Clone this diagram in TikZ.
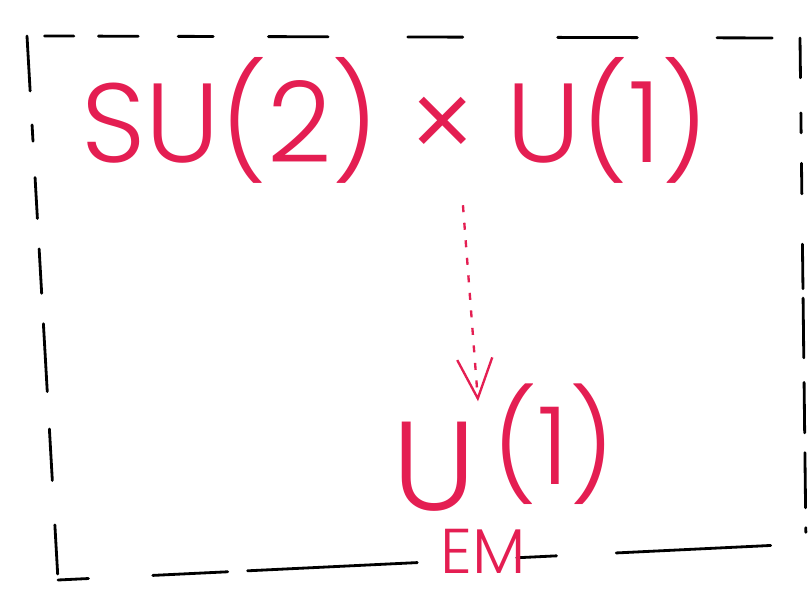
\documentclass[tikz,border=0pt]{standalone}
\usepackage{fontspec}
\newfontfamily\handfont{Poppins}[UprightFont=* Light]
\usetikzlibrary{arrows.meta}
\definecolor{inkred}{RGB}{228,30,82}
\tikzset{
  frame/.style={line width=2.4pt, line cap=round},
  group/.style={text=inkred, font=\handfont\fontsize{96}{104}\selectfont, inner sep=0pt},
  breaking/.style={draw=inkred, line width=2pt, dash pattern=on 6pt off 9pt,
    -{Straight Barb[length=34pt, width=30pt, line width=2pt]}}
}
\begin{document}
\begin{tikzpicture}[x=0.03cm, y=-0.03cm]
  % page box, pixel units of the sketch
  \useasboundingbox (0,0) rectangle (812,595);

  % hand-drawn dashed frame, one uneven dash pattern per side
  \coordinate (tl) at (27,36);
  \coordinate (tr) at (800,38);
  \coordinate (br) at (806,545);
  \coordinate (bl) at (58,580);
  \draw[frame, dash pattern=on 25pt off 21pt on 34pt off 34pt on 30pt off 47pt on 51pt off 68pt
    on 47pt off 81pt on 68pt off 68pt on 47pt off 40pt] ([xshift=15pt]tl) -- ([xshift=-18pt]tr);
  \draw[frame, dash pattern=on 47pt off 29pt on 14pt off 31pt on 35pt off 26pt on 38pt off 26pt
    on 58pt off 32pt on 44pt off 38pt on 42pt off 40pt] (tl) -- (bl);
  \draw[frame, dash pattern=on 34pt off 30pt on 17pt off 26pt on 26pt off 43pt on 38pt off 8pt
    on 51pt off 21pt on 43pt off 17pt on 47pt off 17pt on 4pt off 20pt] (tr) -- (br);
  \draw[frame, dash pattern=on 26pt off 55pt on 64pt off 17pt on 145pt off 85pt on 34pt off 51pt
    on 132pt off 40pt] (bl) -- ([xshift=-22pt]br);

  % gauge groups
  \node[group] (sym) at (395,120) {SU(2) × U(1)};
  \node[group, font=\handfont\fontsize{108}{116}\selectfont, anchor=base west] (em) at (392,510)
    {U\makebox[0pt][l]{\kern-30pt\raisebox{-54pt}{\fontsize{54}{58}\selectfont EM}}\kern14pt%
     \raisebox{22pt}{\fontsize{92}{100}\selectfont(1)}};

  % symmetry breaking
  \draw[breaking] ([xshift=58pt]sym.south) ++(0,22) -- ([shift={(86,18)}]em.north west);
\end{tikzpicture}
\end{document}
